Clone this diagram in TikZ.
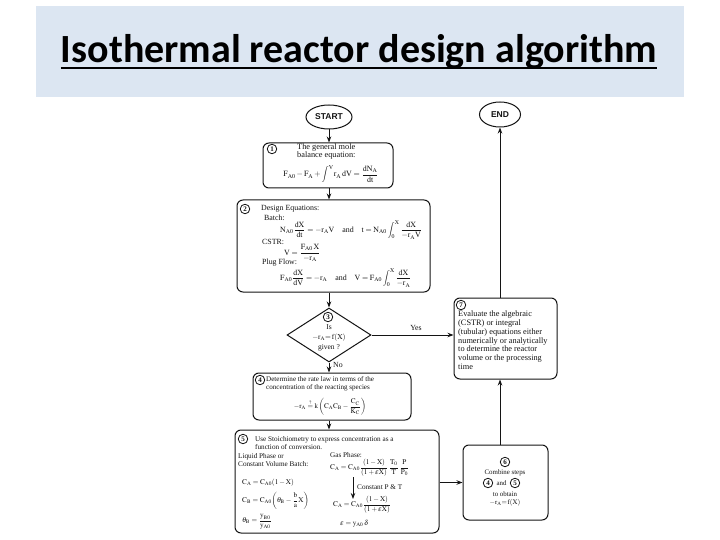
\documentclass[tikz,border=0pt]{standalone}
\usepackage{amsmath}
\usepackage{mathptmx}
\usepackage{fontspec}
\setmainfont{Liberation Serif}
\newfontfamily\titlefont{Carlito}
\newfontfamily\labelsans{Liberation Sans}
\usetikzlibrary{shapes.geometric,arrows.meta}
\definecolor{titlebg}{RGB}{220,230,242}
\definecolor{ink}{RGB}{20,20,20}
\newcommand{\eqn}[1]{$\mathrm{#1}$}
\begin{document}
\begin{tikzpicture}[x=1pt,y=-1pt,font=\fontsize{7.5}{9}\selectfont,
  box/.style={draw=ink,rounded corners=6pt,line width=1pt,inner sep=0},
  txt/.style={inner sep=0,text=ink},
  circ/.style={draw=ink,circle,line width=0.8pt,inner sep=0.4pt,minimum size=9.5pt,font=\bfseries\fontsize{7}{7}\selectfont,text=ink},
  oval/.style={draw=ink,ellipse,line width=1pt,inner sep=0,font=\labelsans\bfseries\fontsize{8.5}{9}\selectfont,text=ink},
  arr/.style={-{Stealth[length=6pt,width=4.5pt]},line width=1pt,draw=ink},
  ]
\useasboundingbox (0,0) rectangle (720,540);
\fill[white] (0,0) rectangle (720,540);
% title band
\node[fill=titlebg,minimum width=648,minimum height=91,anchor=north west,inner sep=0] (band) at (36,6) {};
\node[font=\titlefont\bfseries\fontsize{40}{48}\selectfont,inner sep=0,anchor=base] (title) at (359,63) {Isothermal reactor design algorithm};
\draw[line width=2.2pt] ([yshift=-5pt]title.base west) -- ([yshift=-5pt]title.base east);

% start / end
\node[oval,minimum width=46,minimum height=24] (start) at (329,117) {START};
\node[oval,minimum width=41,minimum height=25] (end) at (500,114.5) {END};

% boxes
\node[box,minimum width=130,minimum height=45] (b1) at (328,165.5) {};
\node[box,minimum width=193,minimum height=92] (b2) at (333.5,246) {};
\node[draw=ink,diamond,line width=1pt,minimum width=84,minimum height=54,inner sep=0] (dia) at (329,335) {};
\node[box,minimum width=158,minimum height=47] (b4) at (332,396.5) {};
\node[box,minimum width=204,minimum height=103] (b5) at (337,481.5) {};
\node[box,minimum width=85,minimum height=75] (b6) at (505.5,482.5) {};
\node[box,minimum width=103,minimum height=81] (b7) at (505.5,338.5) {};

% box 1
\node[circ] (c1) at (272,149) {1};
\node[txt,anchor=west,align=left,font=\fontsize{8.3}{8.8}\selectfont] (t1) at (297,151.5) {The general mole\\balance equation:};
\node[txt,font=\fontsize{8}{9}\selectfont] (e1) at (331,174) {\eqn{F_{A0} - F_A + \displaystyle\int^{V}\! r_A\,dV = \dfrac{dN_A}{dt}}};

% box 2
\begin{scope}[font=\fontsize{7.9}{9}\selectfont]
\node[circ] (c2) at (245,209) {2};
\node[txt,anchor=west] (t2a) at (261,209) {Design Equations:};
\node[txt,anchor=west] (t2b) at (264,218) {Batch:};
\node[txt,anchor=west] (e2a) at (280,230) {\eqn{N_{A0}\dfrac{dX}{dt} = -r_A V}\quad and\quad \eqn{t = N_{A0}\displaystyle\int_0^X \frac{dX}{-r_A V}}};
\node[txt,anchor=west] (t2c) at (262,242) {CSTR:};
\node[txt,anchor=west] (e2b) at (284,253) {\eqn{V = \dfrac{F_{A0}\,X}{-r_A}}};
\node[txt,anchor=west] (t2d) at (262,263) {Plug Flow:};
\node[txt,anchor=west] (e2c) at (280,278) {\eqn{F_{A0}\dfrac{dX}{dV} = -r_A}\quad and\quad \eqn{V = F_{A0}\displaystyle\int_0^X \frac{dX}{-r_A}}};
\end{scope}

% diamond 3
\node[circ] (c3) at (328,317) {3};
\node[txt,align=center,font=\fontsize{7.5}{9.7}\selectfont] (t3) at (329,338) {Is\\\eqn{-r_A{=}\,f(X)}\\given ?};
\node[txt,font=\fontsize{7.8}{9}\selectfont] (yes) at (416,328) {Yes};
\node[txt,anchor=west,font=\fontsize{7.8}{9}\selectfont] (no) at (333,365) {No};

% box 4
\node[circ] (c4) at (260,380) {4};
\node[txt,anchor=west,align=left,font=\fontsize{7.1}{7.8}\selectfont] (t4) at (266,384) {Determine the rate law in terms of the\\concentration of the reacting species};
\node[txt,font=\fontsize{7.1}{8}\selectfont] (e4) at (330,407) {\eqn{-r_A \overset{?}{=} k\left(C_A C_B - \dfrac{C_C}{K_C}\right)}};

% box 5
\begin{scope}[font=\fontsize{7.2}{8.6}\selectfont]
\node[circ] (c5) at (243,439) {5};
\node[txt,anchor=west,align=left] (t5) at (255,443) {Use Stoichiometry to express concentration as a\\function of conversion.};
\node[txt,anchor=west,align=left] (t5b) at (238,460) {Liquid Phase or\\Constant Volume Batch:};
\node[txt,anchor=west] (t5c) at (330,455) {Gas Phase:};
\node[txt,anchor=west] (e5a) at (330,468) {\eqn{C_A = C_{A0}\dfrac{(1-X)}{(1+\varepsilon X)}\,\dfrac{T_0}{T}\,\dfrac{P}{P_0}}};
\node[txt,anchor=west] (e5b) at (242,483) {\eqn{C_A = C_{A0}(1-X)}};
\node[txt,anchor=west] (e5c) at (242,501) {\eqn{C_B = C_{A0}\!\left(\theta_B - \dfrac{b}{a}X\right)}};
\node[txt,anchor=west] (e5d) at (242,522) {\eqn{\theta_B = \dfrac{y_{B0}}{y_{A0}}}};
\node[txt,anchor=west] (e5e) at (333,505) {\eqn{C_A = C_{A0}\dfrac{(1-X)}{(1+\varepsilon X)}}};
\node[txt,anchor=west] (e5f) at (340,524) {\eqn{\varepsilon = y_{A0}\,\delta}};
\node[txt,anchor=west] (t5d) at (357,487) {Constant P \& T};
\end{scope}
\coordinate (k1) at (353,477);
\coordinate (k2) at (353,499);
\draw[arr] (k1) -- (k2);

% box 6
\begin{scope}[font=\fontsize{6.9}{8}\selectfont]
\node[circ] (c6) at (505,462) {6};
\node[txt] (t6a) at (505,472.5) {Combine steps};
\node[circ] (c6a) at (488,483) {4};
\node[txt] (t6b) at (501.5,483) {and};
\node[circ] (c6b) at (515,483) {5};
\node[txt] (t6c) at (505,494) {to obtain};
\node[txt] (t6d) at (505,503) {\eqn{-r_A{=}\,f(X)}};
\end{scope}

% box 7
\node[circ] (c7) at (461,305) {7};
\node[txt,anchor=north west,align=left,font=\fontsize{8.3}{8.7}\selectfont] (t7) at (458,311) {Evaluate the algebraic\\(CSTR) or integral\\(tubular) equations either\\numerically or analytically\\to determine the reactor\\volume or the processing\\time};

% connectors
\draw[arr] (start.south) -- (start.south |- b1.north);
\draw[arr] (b1.south -| start.south) -- (start.south |- b2.north);
\draw[arr] (b2.south -| dia.north) -- (dia.north);
\draw[arr] (dia.south) -- (dia.south |- b4.north);
\draw[arr] (dia.east) -- (dia.east -| b7.west);
\draw[arr] (b4.south -| dia.south) -- (dia.south |- b5.north);
\draw[arr] (b5.east |- b6.west) -- (b6.west);
\draw[arr] (b6.north -| end.south) -- (end.south |- b7.south);
\draw[arr] (b7.north -| end.south) -- (end.south);
\end{tikzpicture}
\end{document}
